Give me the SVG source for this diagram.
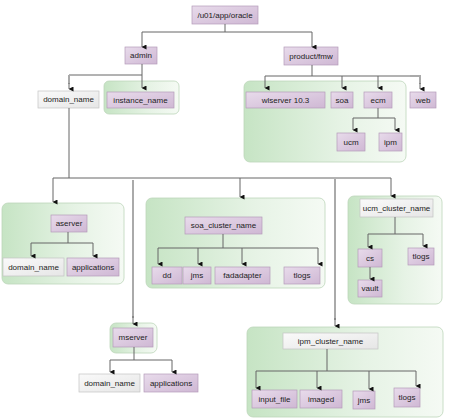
<svg xmlns="http://www.w3.org/2000/svg" width="450" height="418" viewBox="0 0 450 418">
<defs>
<linearGradient id="gp" x1="0" y1="0" x2="1" y2="1">
<stop offset="0" stop-color="#e8dbeb"/>
<stop offset="1" stop-color="#cfb8d4"/>
</linearGradient>
<linearGradient id="gw" x1="0" y1="0" x2="1" y2="1">
<stop offset="0" stop-color="#fafafa"/>
<stop offset="1" stop-color="#e6e6e6"/>
</linearGradient>
<linearGradient id="gg" x1="0" y1="0" x2="1" y2="0">
<stop offset="0" stop-color="#c6e4c4"/>
<stop offset="0.6" stop-color="#e6f3e5"/>
<stop offset="1" stop-color="#f5faf4"/>
</linearGradient>
<marker id="ah" markerWidth="5" markerHeight="5" refX="2.5" refY="4.5" orient="auto-start-reverse" markerUnits="userSpaceOnUse" viewBox="0 0 5 5">
<path d="M0,0 L5,0 L2.5,5 Z" fill="#111"/>
</marker>
<style>
.p{fill:url(#gp);stroke:#b49bb9;stroke-width:0.7}
.w{fill:url(#gw);stroke:#c4c4c4;stroke-width:0.7}
.g{fill:url(#gg);stroke:#bcd6ba;stroke-width:0.8}
.t{font-family:"Liberation Sans",Arial,sans-serif;font-size:8px;fill:#222;text-anchor:middle;dominant-baseline:central}
.c{fill:none;stroke:#666;stroke-width:1}
.l{fill:none;stroke:#aaa;stroke-width:2}
.a{marker-end:url(#ah)}
</style>
</defs>

<g id="root"><rect class="p" x="192" y="6" width="66" height="18"/><text class="t" x="225" y="15">/u01/app/oracle</text></g>
<g id="admin"><rect class="p" x="125" y="47" width="32" height="17"/><text class="t" x="141" y="55.5">admin</text></g>
<g id="domain_name_top"><rect class="w" x="38" y="91" width="61" height="17"/><text class="t" x="68.5" y="99.5">domain_name</text></g>
<g id="instance_name"><rect class="g" x="104" y="81" width="75" height="33" rx="5"/><rect class="p" x="107" y="92" width="67" height="16"/><text class="t" x="140.5" y="100">instance_name</text></g>
<g id="product_fmw"><rect class="p" x="284" y="47" width="54" height="18"/><text class="t" x="311" y="56">product/fmw</text></g>
<g id="fmw_group"><rect class="g" x="244" y="81" width="162" height="81" rx="6"/></g>
<g id="wlserver"><rect class="p" x="246" y="92" width="79" height="16"/><text class="t" x="285.5" y="100">wlserver 10.3</text></g>
<g id="soa"><rect class="p" x="331" y="92" width="22" height="16"/><text class="t" x="342" y="100">soa</text></g>
<g id="ecm"><rect class="p" x="364" y="92" width="28" height="16"/><text class="t" x="378" y="100">ecm</text></g>
<g id="web"><rect class="p" x="410" y="92" width="26" height="16"/><text class="t" x="423" y="100">web</text></g>
<g id="ucm"><rect class="p" x="337" y="133" width="28" height="18"/><text class="t" x="351" y="142">ucm</text></g>
<g id="ipm"><rect class="p" x="379" y="133" width="23" height="18"/><text class="t" x="390.5" y="142">ipm</text></g>

<g id="aserver_group"><rect class="g" x="2" y="203" width="122" height="81" rx="6"/>
<rect class="p" x="51" y="215" width="36" height="17"/><text class="t" x="69" y="223.5">aserver</text>
<rect class="w" x="3" y="258" width="61" height="18"/><text class="t" x="33.5" y="267">domain_name</text>
<rect class="p" x="67" y="258" width="52" height="18"/><text class="t" x="93" y="267">applications</text></g>

<g id="soa_cluster"><rect class="g" x="146" y="198" width="179" height="90" rx="6"/>
<rect class="p" x="185" y="217" width="77" height="17"/><text class="t" x="223.5" y="225.5">soa_cluster_name</text>
<rect class="p" x="152" y="267" width="30" height="17"/><text class="t" x="167" y="275.5">dd</text>
<rect class="p" x="183" y="267" width="28" height="17"/><text class="t" x="197" y="275.5">jms</text>
<rect class="p" x="215" y="267" width="55" height="17"/><text class="t" x="242.5" y="275.5">fadadapter</text>
<rect class="p" x="284" y="267" width="36" height="17"/><text class="t" x="302" y="275.5">tlogs</text></g>

<g id="ucm_cluster"><rect class="g" x="348" y="196" width="94" height="108" rx="6"/>
<rect class="w" x="360" y="199" width="73" height="18"/><text class="t" x="396.5" y="208">ucm_cluster_name</text>
<rect class="p" x="358" y="249" width="24" height="18"/><text class="t" x="370" y="258">cs</text>
<rect class="p" x="408" y="248" width="26" height="17"/><text class="t" x="421" y="256.5">tlogs</text>
<rect class="p" x="358" y="280" width="24" height="17"/><text class="t" x="370" y="288.5">vault</text></g>

<g id="mserver"><rect class="g" x="110" y="323" width="47" height="30" rx="6"/>
<rect class="p" x="113" y="328" width="40" height="19"/><text class="t" x="133" y="337.5">mserver</text></g>
<g id="m_domain_name"><rect class="w" x="79" y="374" width="61" height="18"/><text class="t" x="109.5" y="383">domain_name</text></g>
<g id="m_applications"><rect class="p" x="144" y="374" width="54" height="18"/><text class="t" x="171" y="383">applications</text></g>

<g id="ipm_cluster"><rect class="g" x="247" y="327" width="196" height="90" rx="6"/>
<rect class="w" x="283" y="333" width="95" height="16"/><text class="t" x="330.5" y="341">ipm_cluster_name</text>
<rect class="p" x="252" y="390" width="45" height="18"/><text class="t" x="274.5" y="399">input_file</text>
<rect class="p" x="300" y="390" width="42" height="18"/><text class="t" x="321" y="399">imaged</text>
<rect class="p" x="353" y="391" width="22" height="18"/><text class="t" x="364" y="400">jms</text>
<rect class="p" x="394" y="388" width="26" height="19"/><text class="t" x="407" y="397.5">tlogs</text></g>

<g id="connectors">
<path class="c" d="M225,24 V32 M142,32 H312"/>
<path class="c a" d="M142,32 V47"/>
<path class="c a" d="M312,32 V47"/>
<path class="c" d="M142,64 V75 H69"/>
<path class="c a" d="M142,75 V88"/>
<path class="l" d="M69,75 V84"/>
<path class="c a" d="M69,83 V89"/>
<path class="c" d="M312,65 V76 M265,76 H410"/>
<path class="l" d="M410,76 H420 V84"/>
<path class="c a" d="M420,83 V89"/>
<path class="c a" d="M265,76 V88"/>
<path class="c a" d="M342,76 V88"/>
<path class="c a" d="M378,76 V88"/>
<path class="c" d="M378,108 V118 M353,118 H395"/>
<path class="c a" d="M353,118 V130"/>
<path class="c a" d="M395,118 V130"/>
<path class="c" d="M69,108 V178 M53,178 H391"/>
<path class="c a" d="M53,178 V202"/>
<path class="c a" d="M240,178 V197"/>
<path class="c a" d="M391,178 V196"/>
<path class="l" d="M133,180 V318"/>
<path class="c a" d="M133,316 V324"/>
<path class="l" d="M335,179 V320"/>
<path class="c a" d="M335,318 V326"/>
<path class="c" d="M68,232 V243 M31,243 H93"/>
<path class="c a" d="M31,243 V256"/>
<path class="c a" d="M93,243 V256"/>
<path class="c" d="M223,234 V248 M158,248 H318"/>
<path class="c a" d="M158,248 V264"/>
<path class="c a" d="M198,248 V264"/>
<path class="c a" d="M242,248 V264"/>
<path class="c a" d="M318,248 V264"/>
<path class="c" d="M395,217 V234 M368,234 H423"/>
<path class="c a" d="M368,234 V247"/>
<path class="c a" d="M423,234 V246"/>
<path class="c a" d="M370,267 V279"/>
<path class="c" d="M134,347 V360 M110,360 H172"/>
<path class="c a" d="M110,360 V372"/>
<path class="c a" d="M172,360 V372"/>
<path class="c" d="M327,349 V371 M256,371 H416"/>
<path class="c a" d="M256,371 V388"/>
<path class="c a" d="M317,371 V388"/>
<path class="c a" d="M369,371 V389"/>
<path class="c a" d="M416,371 V386"/>
</g>
</svg>
